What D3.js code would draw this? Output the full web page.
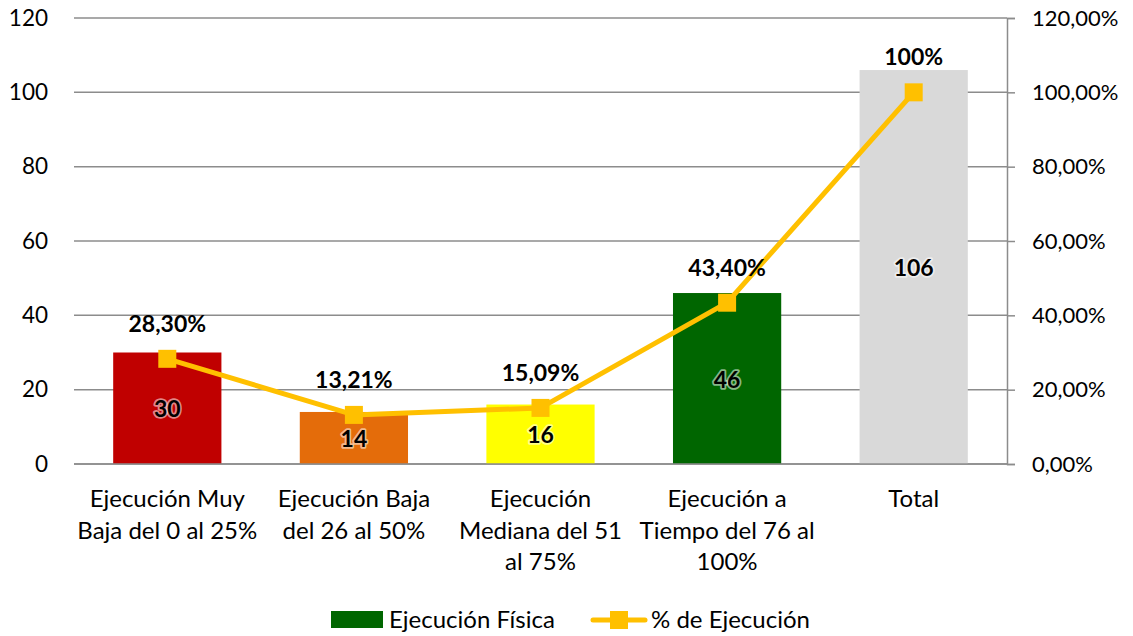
<!DOCTYPE html>
<html>
<head>
<meta charset="utf-8">
<script src="https://cdn.jsdelivr.net/npm/d3@7"></script>
<style>
  body { margin: 0; background: #fff; }
  text { font-family: Lato, "Open Sans", sans-serif; }
</style>
</head>
<body>
<div class="chart"></div>
<script>
"use strict"

// data
const categories = [
  ["Ejecución Muy", "Baja del 0 al 25%"],
  ["Ejecución Baja", "del 26 al 50%"],
  ["Ejecución", "Mediana del 51", "al 75%"],
  ["Ejecución a", "Tiempo del 76 al", "100%"],
  ["Total"]
];
const fisica = [30, 14, 16, 46, 106];
const porcentaje = [0.2830, 0.1321, 0.1509, 0.4340, 1.00];
const pctLabels = ["28,30%", "13,21%", "15,09%", "43,40%", "100%"];
const barColors = ["#C00000", "#E46C0A", "#FFFF00", "#006600", "#D9D9D9"];
const leftTicks = [0, 20, 40, 60, 80, 100, 120];
const rightTicks = [0, 0.2, 0.4, 0.6, 0.8, 1.0, 1.2];

const W = 1133, H = 636;
const pLeft = 74, pRight = 1007, pTop = 18, pBottom = 464;

let svg = d3.select(".chart")
  .append("svg")
  .attr("width", W)
  .attr("height", H);

let x = d3.scaleBand()
  .domain(d3.range(categories.length))
  .range([pLeft, pRight])
  .paddingInner(0.42)
  .paddingOuter(0.21);

let y = d3.scaleLinear().domain([0, 120]).range([pBottom, pTop]);
let y2 = d3.scaleLinear().domain([0, 1.2]).range([pBottom, pTop]);

// gridlines
svg.append("g")
  .selectAll("line")
  .data(leftTicks)
  .enter()
  .append("line")
  .attr("x1", pLeft)
  .attr("x2", pRight)
  .attr("y1", d => y(d))
  .attr("y2", d => y(d))
  .attr("stroke", "#8c8c8c")
  .attr("stroke-width", 1.5);

// left axis labels
let yl = svg.append("g")
  .attr("transform", "translate(" + pLeft + ",0)")
  .call(d3.axisLeft(y).tickValues(leftTicks).tickSize(0).tickPadding(26));
yl.select(".domain").remove();
yl.selectAll("text").attr("font-size", 22.5).attr("fill", "#000")
  .style("font-family", "Lato, sans-serif");

// right axis
let yr = svg.append("g")
  .attr("transform", "translate(" + pRight + ",0)")
  .call(d3.axisRight(y2).tickValues(rightTicks).tickSize(8).tickPadding(17)
    .tickFormat(d => d3.format(".2f")(d * 100).replace(".", ",") + "%"));
yr.select(".domain").attr("stroke", "#8c8c8c").attr("stroke-width", 1.5);
yr.selectAll("line").attr("stroke", "#8c8c8c").attr("stroke-width", 1.5);
yr.selectAll("text").attr("font-size", 22).attr("fill", "#000")
  .style("font-family", "Lato, sans-serif");

// bars
svg.append("g")
  .selectAll("rect")
  .data(fisica)
  .enter()
  .append("rect")
  .attr("x", (d, i) => x(i))
  .attr("width", x.bandwidth())
  .attr("y", d => y(d))
  .attr("height", d => pBottom - y(d))
  .attr("fill", (d, i) => barColors[i]);

// bottom axis line
svg.append("line")
  .attr("x1", pLeft).attr("x2", pRight)
  .attr("y1", pBottom).attr("y2", pBottom)
  .attr("stroke", "#8c8c8c").attr("stroke-width", 1.5);

// bar value labels, with a light halo
svg.append("g")
  .selectAll("text")
  .data(fisica)
  .enter()
  .append("text")
  .attr("x", (d, i) => x(i) + x.bandwidth() / 2)
  .attr("y", d => (y(d) + pBottom) / 2 + 9)
  .attr("text-anchor", "middle")
  .attr("font-size", 23)
  .attr("font-weight", "bold")
  .attr("fill", "#000")
  .attr("stroke", "rgba(255,255,255,0.55)")
  .attr("stroke-width", 3.5)
  .attr("stroke-linejoin", "round")
  .attr("paint-order", "stroke")
  .text(d => d);

// line series
let cx = i => x(i) + x.bandwidth() / 2;
svg.append("path")
  .datum(porcentaje)
  .attr("d", d3.line().x((d, i) => cx(i)).y(d => y2(d)))
  .attr("fill", "none")
  .attr("stroke", "#FFC000")
  .attr("stroke-width", 5)
  .attr("stroke-linejoin", "round");

svg.append("g")
  .selectAll("rect")
  .data(porcentaje)
  .enter()
  .append("rect")
  .attr("x", (d, i) => cx(i) - 9)
  .attr("y", d => y2(d) - 9)
  .attr("width", 18)
  .attr("height", 18)
  .attr("fill", "#FFC000");

// percentage labels
svg.append("g")
  .selectAll("text")
  .data(porcentaje)
  .enter()
  .append("text")
  .attr("x", (d, i) => cx(i))
  .attr("y", d => y2(d) - 27)
  .attr("text-anchor", "middle")
  .attr("font-size", 23)
  .attr("font-weight", "bold")
  .attr("fill", "#000")
  .text((d, i) => pctLabels[i]);

// category labels
let cl = svg.append("g")
  .selectAll("text")
  .data(categories)
  .enter()
  .append("text")
  .attr("text-anchor", "middle")
  .attr("font-size", 24)
  .attr("fill", "#000");
cl.each(function (lines, i) {
  d3.select(this).selectAll("tspan")
    .data(lines)
    .enter()
    .append("tspan")
    .attr("x", cx(i))
    .attr("y", (l, j) => 507 + j * 31.5)
    .text(l => l);
});

// legend
let lg = svg.append("g");
lg.append("rect").attr("x", 331).attr("y", 611).attr("width", 52).attr("height", 17).attr("fill", "#006600");
lg.append("text").attr("x", 389).attr("y", 628).attr("font-size", 24).text("Ejecución Física");
lg.append("line").attr("x1", 593).attr("x2", 645).attr("y1", 620).attr("y2", 620)
  .attr("stroke", "#FFC000").attr("stroke-width", 5).attr("stroke-linecap", "round");
lg.append("rect").attr("x", 610).attr("y", 611).attr("width", 18).attr("height", 18).attr("fill", "#FFC000");
lg.append("text").attr("x", 651).attr("y", 628).attr("font-size", 24).text("% de Ejecución");
</script>
</body>
</html>
